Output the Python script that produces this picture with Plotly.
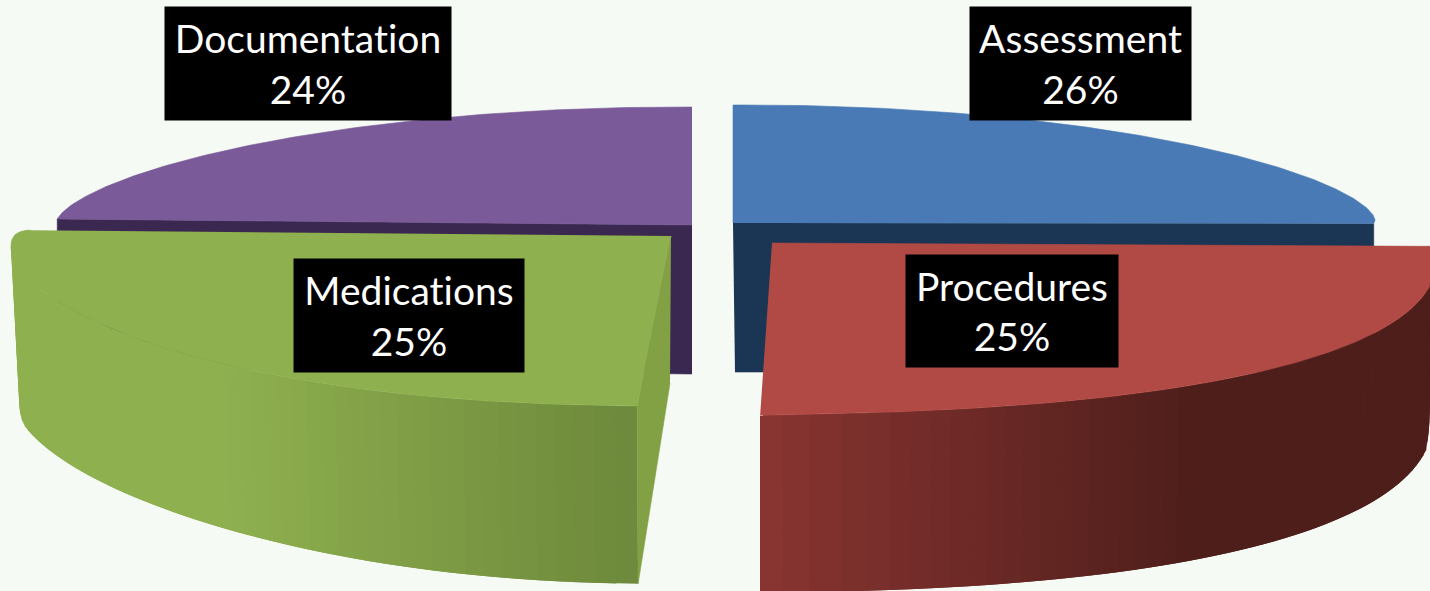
"""
    Exploded 3D-looking pie chart drawn with filled scatter polygons.
    The slice angles come from the values, the frames below only place each slice on the page.
"""
import numpy as np
import plotly.graph_objects as go

categories = ["Assessment", "Procedures", "Medications", "Documentation"]
values = [26, 25, 25, 24]

top_colors = ["#4a7ab5", "#b14a45", "#8fb04f", "#7a5a98"]
cut_colors = ["#1b3554", None, "#82a044", "#3b2850"]
# wall colour at the left and right end of the visible wall
wall_colors = [None, ("#8a3531", "#4e1e1b"), ("#8fb04f", "#6e8a3c"), None]
wall_x_range = [None, (770, 1200), (230, 625), None]

# projection frame of each slice: apex, sin axis, cos axis, cos exponent, sin exponent
apex = [(733, 223), (772, 243), (671, 236), (692, 225)]
sin_axis = [(642, -3), (660, -16), (668, -3.3), (636, 2.3)]
cos_axis = [(0, -118), (-51, -171), (-29.7, -170), (0, -118)]
cos_exp = [1.25, 0.8, 1.05, 1.25]
sin_exp = [1.0, 0.85, 0.85, 1.0]

# wall shape of the front slices: side height, extra height at the front, curve exponent, narrowing
wall_side = [None, 150, 160, None]
wall_extra = [None, 28, 18, None]
wall_exp = [None, 0.6, 4, None]
wall_narrow = [None, 0.996, 0.988, None]

# rounded outer corner: which rim end, rim points replaced, inset along the radial edge
corner_round = [None, (0, 17, 9), (-1, 18, 28), None]

# label boxes: centre x, centre y, width, height
label_boxes = [(1080.5, 63.5, 221, 113), (1012, 311, 212, 112), (409, 315.5, 230, 113), (308, 63.5, 286, 113)]

BACKGROUND = "#f5faf4"
STRIPS = 60


def signed_pow(a, e):
    return np.sign(a) * np.abs(a) ** e


def rim(i, theta):
    """Outer edge of slice i on the page"""
    s = signed_pow(np.sin(theta), sin_exp[i])
    c = signed_pow(np.cos(theta), cos_exp[i])
    x = apex[i][0] + sin_axis[i][0] * s + cos_axis[i][0] * c
    y = apex[i][1] + sin_axis[i][1] * s + cos_axis[i][1] * c
    return x, y


def round_corner(i, x, y):
    """Replace the sharp outer corner of the rim by a small curve"""
    end, count, inset = corner_round[i]
    if end == 0:
        x, y = x[::-1], y[::-1]
    cx, cy = x[-1], y[-1]
    dx, dy = apex[i][0] - cx, apex[i][1] - cy
    length = np.hypot(dx, dy)
    bx, by = cx + dx / length * inset, cy + dy / length * inset
    t = np.linspace(0, 1, count)
    x, y = x.copy(), y.copy()
    x0, y0 = x[-count], y[-count]
    x[-count:] = (1 - t) ** 2 * x0 + 2 * t * (1 - t) * cx + t ** 2 * bx
    y[-count:] = (1 - t) ** 2 * y0 + 2 * t * (1 - t) * cy + t ** 2 * by
    if end == 0:
        x, y = x[::-1], y[::-1]
    return x, y


def wall_bottom(i, x, y, theta):
    # the wall is taller towards the viewer and narrows a little going down
    height = wall_side[i] + wall_extra[i] * np.abs(np.cos(theta)) ** wall_exp[i]
    return 720 + (x - 720) * wall_narrow[i], y + height


def polygon(xs, ys, color, edge=0.6):
    return go.Scatter(
        x=list(xs),
        y=list(ys),
        mode="lines",
        fill="toself",
        fillcolor=color,
        line=dict(color=color, width=edge),
        hoverinfo="skip",
    )


def mix(pair, t):
    a = [int(pair[0][k:k + 2], 16) for k in (1, 3, 5)]
    b = [int(pair[1][k:k + 2], 16) for k in (1, 3, 5)]
    t = min(max(t, 0), 1)
    return "rgb({:.0f},{:.0f},{:.0f})".format(*[p + (q - p) * t for p, q in zip(a, b)])


fig = go.Figure()

edges = np.radians(np.concatenate([[0], np.cumsum(values)]) * 360 / sum(values))

# back slices first, then the two front ones
for i in [3, 0, 2, 1]:
    theta = np.linspace(edges[i], edges[i + 1], 121)
    x, y = rim(i, theta)
    if corner_round[i] is not None:
        x, y = round_corner(i, x, y)
    ax, ay = apex[i]

    if wall_colors[i] is not None:
        bx, by = wall_bottom(i, x, y, theta)
        step = (len(theta) - 1) // STRIPS
        # every strip reaches under the next one so no seam shows between them
        starts = list(range(0, len(theta) - 1, step))
        if x[0] < x[-1]:
            starts = starts[::-1]
        for k in starts:
            lo, hi = (max(k - step, 0), k + step) if x[0] < x[-1] else (k, min(k + 2 * step, len(theta) - 1))
            t = (x[k] - wall_x_range[i][0]) / (wall_x_range[i][1] - wall_x_range[i][0])
            fig.add_trace(polygon(
                [x[lo], x[hi], bx[hi], bx[lo]],
                [y[lo], y[hi], by[hi], by[lo]],
                mix(wall_colors[i], t),
                edge=0,
            ))

    if cut_colors[i] is not None:
        if i == 2:
            # radial face of the green slice, seen from the right
            bx, by = wall_bottom(i, x, y, theta)
            fig.add_trace(polygon(
                [ax, x[0], x[0] + 1, ax - 1],
                [ay, y[0], by[0], ay + 147],
                cut_colors[i],
            ))
        else:
            end = -1 if i == 0 else 0
            fig.add_trace(polygon(
                [ax, x[end], x[end], ax + (2 if i == 0 else 0)],
                [ay, y[end], y[end] + 148, ay + 149],
                cut_colors[i],
            ))

    fig.add_trace(polygon(
        np.concatenate([[ax], x]),
        np.concatenate([[ay], y]),
        top_colors[i],
    ))

for name, value, box in zip(categories, values, label_boxes):
    fig.add_annotation(
        x=box[0],
        y=box[1],
        xref="x",
        yref="y",
        text="{}<br>{}%".format(name, value),
        showarrow=False,
        width=box[2],
        height=box[3],
        bgcolor="black",
        borderpad=0,
        align="center",
        valign="middle",
        font=dict(family="Lato", size=39, color="white"),
    )

fig.update_xaxes(range=[0, 1430], visible=False, fixedrange=True)
fig.update_yaxes(range=[591, 0], visible=False, fixedrange=True)
fig.update_layout(
    width=1430,
    height=591,
    margin=dict(l=0, r=0, t=0, b=0),
    showlegend=False,
    paper_bgcolor=BACKGROUND,
    plot_bgcolor=BACKGROUND,
)

# a tiny letter spacing switches the font's ti ligature off
fig.write_html(
    "out.html",
    config={"displayModeBar": False},
    post_script=(
        "document.body.style.margin='0';document.body.style.overflow='hidden';"
        "document.querySelectorAll('.annotation-text, .annotation-text tspan').forEach(function(t){"
        "t.style.fontVariantLigatures='none';t.style.letterSpacing='0.01px';});"
    ),
)
